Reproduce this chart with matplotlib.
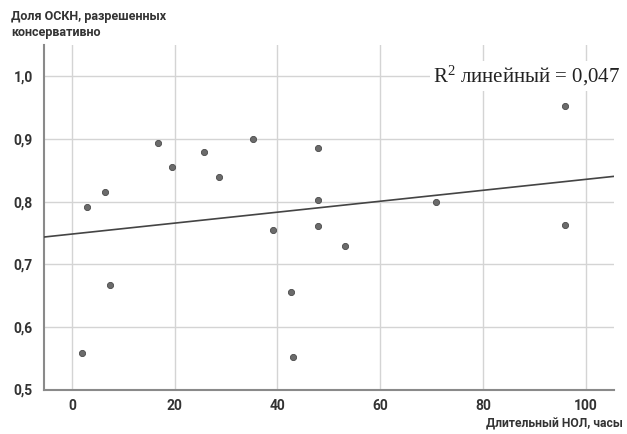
import matplotlib as mpl
import matplotlib.pyplot as plt
import numpy as np

# long-lasting duration (hours) vs share resolved conservatively
hours = [3.0, 6.4, 16.8, 19.5, 25.7, 28.6, 35.2, 47.9, 47.9, 47.9,
         53.1, 70.9, 95.9, 95.9, 2.0, 7.5, 39.2, 42.6, 43.0]
share = [0.792, 0.815, 0.893, 0.855, 0.880, 0.840, 0.900, 0.886, 0.802, 0.761,
         0.729, 0.800, 0.952, 0.762, 0.559, 0.667, 0.754, 0.655, 0.552]
x_ticks = [0, 20, 40, 60, 80, 100]
y_ticks = [0.5, 0.6, 0.7, 0.8, 0.9, 1.0]
y_labels = ["0,5", "0,6", "0,7", "0,8", "0,9", "1,0"]
r2_text = "R$^2$ линейный = 0,047"


def main():
    mpl.rcParams["font.family"] = ["Roboto", "DejaVu Sans"]
    mpl.rcParams["mathtext.fontset"] = "custom"
    mpl.rcParams["mathtext.rm"] = "Liberation Serif"
    mpl.rcParams["mathtext.it"] = "Liberation Serif"
    text_color = "#333333"

    fig = plt.figure(figsize=(6.27, 4.34), dpi=100)
    ax = fig.add_axes([0.0697, 0.1025, 0.9093, 0.7935])

    ax.set_xlim(-5.5, 105.5)
    ax.set_ylim(0.5, 1.05)
    ax.set_xticks(x_ticks)
    ax.set_yticks(y_ticks)
    ax.set_yticklabels(y_labels)
    ax.grid(True, color="#d4d4d4", linewidth=1.0)
    ax.set_axisbelow(True)
    ax.tick_params(length=0, labelsize=10, labelcolor=text_color)
    ax.tick_params(axis="x", pad=7)
    ax.tick_params(axis="y", pad=8)
    for lab in ax.get_xticklabels() + ax.get_yticklabels():
        lab.set_fontweight("bold")
    for side in ["top", "right"]:
        ax.spines[side].set_visible(False)
    for side in ["left", "bottom"]:
        ax.spines[side].set_color("#8a8a8a")
        ax.spines[side].set_linewidth(1.5)

    # linear fit across the full x range
    slope, intercept = np.polyfit(hours, share, 1)
    xs = np.array(ax.get_xlim())
    ax.plot(xs, intercept + slope * xs, color="#444444", linewidth=1.2, zorder=3)

    ax.scatter(hours, share, s=20, color="#6b6b6b", edgecolors="#4a4a4a",
               linewidths=0.6, zorder=4)

    ax.text(0.683, 0.91, r2_text, transform=ax.transAxes,
            fontfamily="Liberation Serif", fontsize=15, color="#222222",
            ha="left", va="center", zorder=5,
            bbox=dict(facecolor="white", edgecolor="none", pad=2))

    fig.text(11 / 627, 1 - 10 / 434, "Доля ОСКН, разрешенных\nконсервативно",
             ha="left", va="top", fontsize=9, fontweight="bold",
             color=text_color, linespacing=1.3)
    fig.text(623 / 627, 1 - 424 / 434, "Длительный НОЛ, часы",
             ha="right", va="center", fontsize=8.7, fontweight="bold",
             color=text_color)

    fig.savefig("out.png", dpi=100)
    plt.close(fig)


if __name__ == "__main__":
    main()
